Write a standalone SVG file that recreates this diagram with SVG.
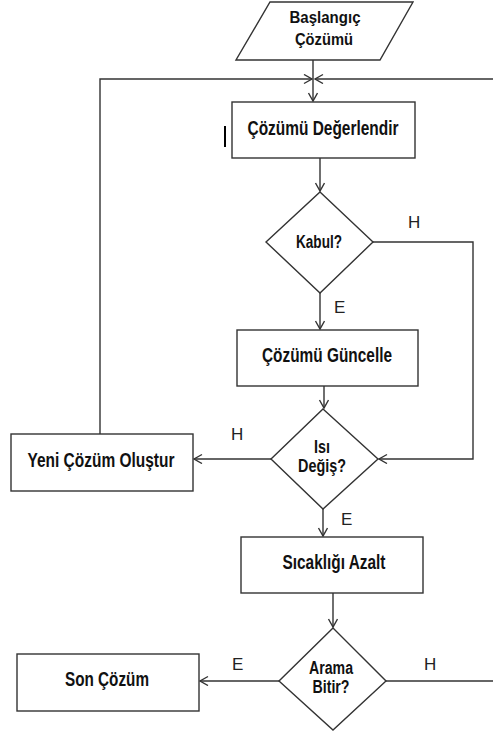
<svg xmlns="http://www.w3.org/2000/svg" width="493" height="733" viewBox="0 0 493 733">
<style>
.shape{fill:#fff;stroke:#333;stroke-width:1.4}
.conn{fill:none;stroke:#333;stroke-width:1.4}
.t{font-family:"Liberation Sans Narrow","Liberation Sans",Arial,sans-serif;font-weight:bold;font-size:19.5px;fill:#111;text-anchor:middle}
.d{font-size:17.5px}
.p{font-size:17px}
.lbl{font-family:"Liberation Sans Narrow","Liberation Sans",Arial,sans-serif;font-size:17px;fill:#222}
</style>
<defs>
<marker id="arr" markerUnits="userSpaceOnUse" markerWidth="12" markerHeight="12" refX="9" refY="5" orient="auto">
<path d="M1,0.5 L9,5 L1,9.5" fill="none" stroke="#333" stroke-width="1.4"/>
</marker>
</defs>
<rect width="493" height="733" fill="#fff"/>
<g id="connectors">
<path class="conn" d="M313,60 V101" marker-end="url(#arr)"/>
<path class="conn" d="M100,434 V79 H312" marker-end="url(#arr)"/>
<path class="conn" d="M493,79 H315" marker-end="url(#arr)"/>
<path class="conn" d="M320,158 V191" marker-end="url(#arr)"/>
<path class="conn" d="M373,242 H473 V459 H379" marker-end="url(#arr)"/>
<path class="conn" d="M320,293 V329" marker-end="url(#arr)"/>
<path class="conn" d="M324,386 V408" marker-end="url(#arr)"/>
<path class="conn" d="M271,459 H194" marker-end="url(#arr)"/>
<path class="conn" d="M323,509 V536" marker-end="url(#arr)"/>
<path class="conn" d="M333,593 V627" marker-end="url(#arr)"/>
<path class="conn" d="M279,681 H200" marker-end="url(#arr)"/>
<path class="conn" d="M386,681 H493"/>
<text class="lbl" x="408" y="228">H</text>
<text class="lbl" x="334" y="313">E</text>
<text class="lbl" x="231" y="440">H</text>
<text class="lbl" x="341" y="525">E</text>
<text class="lbl" x="232" y="670">E</text>
<text class="lbl" x="424" y="670">H</text>
</g>
<line x1="225" y1="126" x2="225" y2="147" stroke="#000" stroke-width="2"/>
<g id="start">
<polygon class="shape" points="270,2 413,2 380,60 236,60"/>
<text class="t p" x="325" y="23" textLength="71" lengthAdjust="spacingAndGlyphs">Başlangıç</text>
<text class="t p" x="324" y="45" textLength="58" lengthAdjust="spacingAndGlyphs">Çözümü</text>
</g>
<g id="evaluate">
<rect class="shape" x="232" y="102" width="183" height="56"/>
<text class="t" x="323" y="135" textLength="151" lengthAdjust="spacingAndGlyphs">Çözümü Değerlendir</text>
</g>
<g id="accept">
<polygon class="shape" points="320,192 373,242 320,293 266,242"/>
<text class="t d" x="319" y="248" textLength="46" lengthAdjust="spacingAndGlyphs">Kabul?</text>
</g>
<g id="update">
<rect class="shape" x="237" y="330" width="181" height="56"/>
<text class="t" x="327" y="362" textLength="130" lengthAdjust="spacingAndGlyphs">Çözümü Güncelle</text>
</g>
<g id="heatchange">
<polygon class="shape" points="323,409 378,459 323,509 271,459"/>
<text class="t d" x="322" y="453" textLength="16" lengthAdjust="spacingAndGlyphs">Isı</text>
<text class="t d" x="322" y="472" textLength="48" lengthAdjust="spacingAndGlyphs">Değiş?</text>
</g>
<g id="newsolution">
<rect class="shape" x="11" y="434" width="182" height="57"/>
<text class="t" x="101" y="467" textLength="147" lengthAdjust="spacingAndGlyphs">Yeni Çözüm Oluştur</text>
</g>
<g id="cool">
<rect class="shape" x="241" y="537" width="182" height="56"/>
<text class="t" x="334" y="569" textLength="103" lengthAdjust="spacingAndGlyphs">Sıcaklığı Azalt</text>
</g>
<g id="stop">
<polygon class="shape" points="333,628 386,681 333,730 279,681"/>
<text class="t d" x="331" y="674" textLength="44" lengthAdjust="spacingAndGlyphs">Arama</text>
<text class="t d" x="331" y="693" textLength="37" lengthAdjust="spacingAndGlyphs">Bitir?</text>
</g>
<g id="final">
<rect class="shape" x="17" y="654" width="182" height="57"/>
<text class="t" x="107" y="686" textLength="84" lengthAdjust="spacingAndGlyphs">Son Çözüm</text>
</g>
</svg>
